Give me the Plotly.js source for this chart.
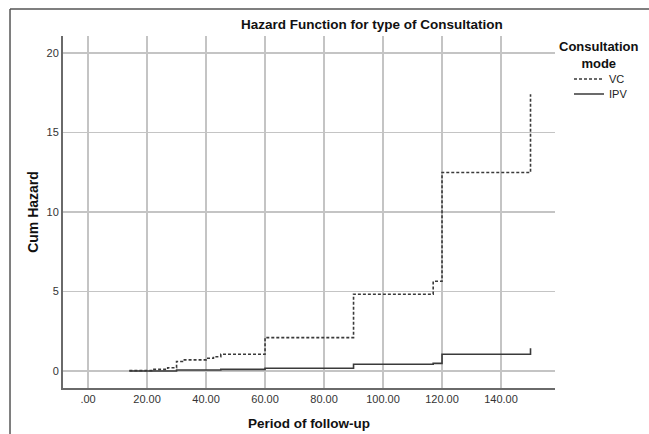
<!DOCTYPE html>
<html>
<head>
<meta charset="utf-8">
<script src="https://cdn.plot.ly/plotly-3.0.1.min.js"></script>
<style>
html,body{margin:0;padding:0;background:#fff;}
#chart{width:649px;height:434px;}
</style>
</head>
<body>
<div id="chart"></div>
<script>
// Cumulative hazard step data (time in days, cumulative hazard)
const vcTime   = [14, 22, 27, 30, 32, 40, 42.5, 45, 60, 90, 117, 120, 150];
const vcHazard = [0.02, 0.1, 0.2, 0.6, 0.7, 0.8, 0.9, 1.05, 2.1, 4.83, 5.64, 12.48, 17.4];
const ipvTime   = [14, 30, 45, 60, 90, 117, 120, 150];
const ipvHazard = [0.0, 0.06, 0.1, 0.17, 0.42, 0.48, 1.05, 1.43];
const xTickVals = [0, 20, 40, 60, 80, 100, 120, 140];
const xTickText = ['.00', '20.00', '40.00', '60.00', '80.00', '100.00', '120.00', '140.00'];
const yTickVals = [0, 5, 10, 15, 20];

const FONT = 'Liberation Sans, Arial, sans-serif';

const traces = [
  {
    x: vcTime, y: vcHazard, name: 'VC', type: 'scatter', mode: 'lines', legend: 'legend',
    line: {shape: 'hv', color: '#3a3a3a', width: 1.6, dash: '3px,2px'}
  },
  {
    x: ipvTime, y: ipvHazard, name: 'IPV', type: 'scatter', mode: 'lines', legend: 'legend2',
    line: {shape: 'hv', color: '#3a3a3a', width: 1.6}
  }
];

const legendBase = {
  xref: 'container', yref: 'container', xanchor: 'left', yanchor: 'middle',
  bgcolor: 'rgba(0,0,0,0)', borderwidth: 0,
  font: {family: FONT, size: 11, color: '#222'},
  itemwidth: 30
};

const layout = {
  width: 649, height: 434,
  margin: {l: 63, r: 94, t: 36, b: 46, pad: 0},
  paper_bgcolor: '#fff', plot_bgcolor: '#fff',
  font: {family: FONT, color: '#222'},
  title: {
    text: '<b>Hazard Function for type of Consultation</b>',
    font: {family: FONT, size: 13.5, color: '#111'},
    x: 0.573, xanchor: 'center', y: 0.943, yanchor: 'middle', xref: 'container', yref: 'container'
  },
  xaxis: {
    range: [-8.5, 158.3], tickvals: xTickVals, ticktext: xTickText,
    showgrid: true, gridcolor: '#c4c4c4', gridwidth: 1.5,
    zeroline: false, showline: true, linecolor: '#6a6a6a', linewidth: 2,
    ticks: '', tickfont: {family: FONT, size: 11, color: '#333'},
    automargin: false,
    title: {text: '<b>Period of follow-up</b>', font: {family: FONT, size: 13.5, color: '#111'}, standoff: 14}
  },
  yaxis: {
    range: [-1.07, 21.07], tickvals: yTickVals,
    showgrid: true, gridcolor: '#c4c4c4', gridwidth: 1.5,
    zeroline: false, showline: true, linecolor: '#6a6a6a', linewidth: 2,
    ticks: '', tickfont: {family: FONT, size: 11, color: '#333'},
    automargin: false,
    title: {text: '<b>Cum Hazard</b>', font: {family: FONT, size: 14, color: '#111'}, standoff: 5}
  },
  showlegend: true,
  legend: Object.assign({}, legendBase, {x: 569 / 649, y: 1 - 79 / 434}),
  legend2: Object.assign({}, legendBase, {x: 569 / 649, y: 1 - 94 / 434}),
  annotations: [
    {text: '<b>Consultation<br>mode</b>', xref: 'paper', yref: 'paper',
     x: (598 - 63) / 492, y: (388 - 37) / 352, xanchor: 'center', yanchor: 'top',
     showarrow: false, align: 'center', font: {family: FONT, size: 13, color: '#111'}}
  ],
  shapes: [
    {type: 'line', xref: 'paper', yref: 'paper', x0: -0.1077, x1: -0.1077, y0: 1.0767, y1: -0.14,
     line: {color: '#555', width: 1.5}},
    {type: 'line', xref: 'paper', yref: 'paper', x0: -0.1077, x1: 1.2, y0: 1.0767, y1: 1.0767,
     line: {color: '#555', width: 1.5}}
  ]
};

Plotly.newPlot('chart', traces, layout, {displayModeBar: false, staticPlot: true});
</script>
</body>
</html>
